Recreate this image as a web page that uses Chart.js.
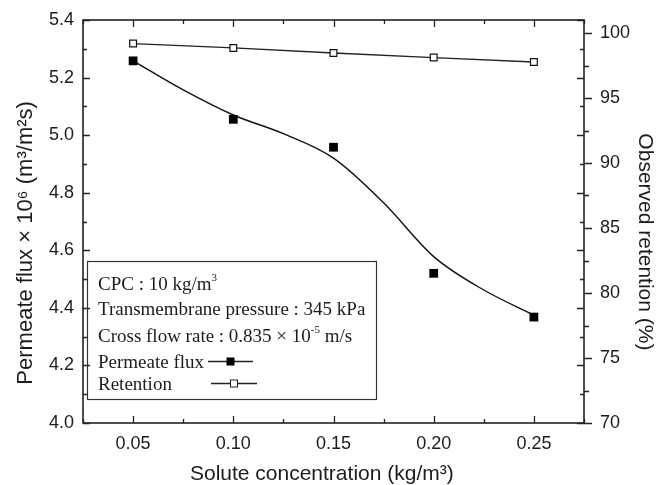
<!DOCTYPE html>
<html>
<head>
<meta charset="utf-8">
<script src="https://cdn.jsdelivr.net/npm/chart.js@4.4.1/dist/chart.umd.min.js"></script>
<style>
    html, body { margin: 0; padding: 0; background: #fff; }
    #wrap { width: 666px; height: 485px; }
</style>
</head>
<body>
<div id="wrap"><canvas id="chart"></canvas></div>
<script>
// values
const concentration = [0.05, 0.10, 0.15, 0.20, 0.25];
const permeateFlux = [5.258, 5.055, 4.958, 4.520, 4.368];
const retention = [99.19, 98.85, 98.46, 98.11, 97.77];

// fitted curve for the flux
const fitConc = [0.05, 0.075, 0.10, 0.125, 0.15, 0.175, 0.20, 0.225, 0.25];
const fitFlux = [5.258, 5.157, 5.070, 5.005, 4.920, 4.765, 4.578, 4.462, 4.375];

// axis settings
const xTicks = { min: 0.025, max: 0.275, step: 0.025, labelEvery: 0.05 };
const yTicks = { min: 4.0, max: 5.4, step: 0.1, labelEvery: 0.2 };
const y2Ticks = { min: 70, max: 101, step: 2.5, labelEvery: 5 };

// legend box text (with superscripts)
const legendText = [
    [['CPC : 10 kg/m', 0], ['3', 1]],
    [['Transmembrane pressure : 345 kPa', 0]],
    [['Cross flow rate : 0.835 \u00d7 10', 0], ['-5', 1], [' m/s', 0]],
    [['Permeate flux', 0]],
    [['Retention', 0]]
];

const ink = '#1c1c1c';

function isMultiple(v, step) {
    const k = Math.round(v / step);
    return Math.abs(k * step - v) < 1e-6;
}

// explicit tick list: every step between min and max
function tickList(t) {
    const out = [];
    const first = Math.ceil(t.min / t.step - 1e-9);
    const last = Math.floor(t.max / t.step + 1e-9);
    for (let k = first; k <= last; k++) {
        out.push({ value: Math.round(k * t.step * 1e6) / 1e6 });
    }
    return out;
}

// frame + inward ticks like the Origin plot
const frameTicks = {
    id: 'frameTicks',
    afterDatasetsDraw(chart) {
        const { ctx, chartArea: a, scales } = chart;
        ctx.save();
        ctx.strokeStyle = '#222';
        ctx.lineWidth = 1.6;
        ctx.strokeRect(a.left, a.top, a.right - a.left, a.bottom - a.top);
        ctx.lineWidth = 1.3;
        ctx.beginPath();
        scales.x.ticks.forEach(t => {
            const len = isMultiple(t.value, xTicks.labelEvery) ? 7 : 4;
            const px = Math.round(scales.x.getPixelForValue(t.value)) + 0.5;
            ctx.moveTo(px, a.bottom); ctx.lineTo(px, a.bottom - len);
            ctx.moveTo(px, a.top); ctx.lineTo(px, a.top + len);
        });
        scales.y.ticks.forEach(t => {
            const len = isMultiple(t.value, yTicks.labelEvery) ? 7 : 4;
            const py = Math.round(scales.y.getPixelForValue(t.value)) + 0.5;
            ctx.moveTo(a.left, py); ctx.lineTo(a.left + len, py);
            ctx.moveTo(a.right, py); ctx.lineTo(a.right - len, py);
        });
        scales.y2.ticks.forEach(t => {
            const len = isMultiple(t.value, y2Ticks.labelEvery) ? 8 : 5;
            const py = Math.round(scales.y2.getPixelForValue(t.value)) + 0.5;
            ctx.moveTo(a.right, py); ctx.lineTo(a.right + len, py);
        });
        ctx.stroke();
        ctx.restore();
    }
};

function drawRich(ctx, parts, x, y) {
    parts.forEach(([txt, sup]) => {
        if (sup) {
            ctx.font = '11px "Liberation Serif", "Times New Roman", serif';
            ctx.fillText(txt, x, y - 9);
        } else {
            ctx.font = '19px "Liberation Serif", "Times New Roman", serif';
            ctx.fillText(txt, x, y);
        }
        x += ctx.measureText(txt).width;
    });
}

// the boxed note / legend in the lower left
const noteBox = {
    id: 'noteBox',
    afterDraw(chart) {
        const ctx = chart.ctx;
        const a = chart.chartArea;
        const left = a.left + 4.5, top = 261.5, right = 376.5, bottom = 399.5;
        ctx.save();
        ctx.strokeStyle = '#333';
        ctx.lineWidth = 1.2;
        ctx.strokeRect(left, top, right - left, bottom - top);
        ctx.fillStyle = ink;
        ctx.textBaseline = 'alphabetic';
        const baselines = [290, 315, 342, 368, 390];
        legendText.forEach((parts, i) => drawRich(ctx, parts, 98, baselines[i]));

        // symbols
        ctx.strokeStyle = '#222';
        ctx.lineWidth = 1.3;
        ctx.beginPath();
        ctx.moveTo(208, 361.5); ctx.lineTo(253, 361.5);
        ctx.moveTo(211, 383.5); ctx.lineTo(257, 383.5);
        ctx.stroke();
        ctx.fillStyle = '#000';
        ctx.fillRect(226.5, 357.5, 8, 8);
        ctx.fillStyle = '#fff';
        ctx.fillRect(230.5, 380, 7, 7);
        ctx.lineWidth = 1;
        ctx.strokeRect(230.5, 380, 7, 7);
        ctx.restore();
    }
};

const tickFont = { family: '"Liberation Sans", Arial, sans-serif', size: 18 };
const titleFont = { family: '"Liberation Sans", Arial, sans-serif', size: 21, lineHeight: 1 };

new Chart(document.getElementById('chart'), {
    type: 'scatter',
    data: {
        datasets: [{
            label: 'Permeate flux',
            data: concentration.map((c, i) => ({ x: c, y: permeateFlux[i] })),
            yAxisID: 'y',
            pointStyle: 'rect',
            pointRadius: 6.2,
            backgroundColor: '#000',
            borderColor: '#000',
            borderWidth: 0,
            showLine: false
        }, {
            label: 'Flux fit',
            data: fitConc.map((c, i) => ({ x: c, y: fitFlux[i] })),
            yAxisID: 'y',
            showLine: true,
            cubicInterpolationMode: 'monotone',
            pointRadius: 0,
            borderColor: '#111',
            borderWidth: 1.4
        }, {
            label: 'Retention',
            data: concentration.map((c, i) => ({ x: c, y: retention[i] })),
            yAxisID: 'y2',
            showLine: true,
            pointStyle: 'rect',
            pointRadius: 4.8,
            pointBackgroundColor: '#fff',
            pointBorderColor: '#111',
            pointBorderWidth: 1.2,
            borderColor: '#222',
            borderWidth: 1.3
        }]
    },
    options: {
        responsive: true,
        maintainAspectRatio: false,
        animation: false,
        devicePixelRatio: 1,
        layout: { padding: { top: 20, left: 0, right: 0, bottom: 0 } },
        plugins: {
            legend: { display: false },
            tooltip: { enabled: false }
        },
        scales: {
            x: {
                type: 'linear',
                min: xTicks.min,
                max: xTicks.max,
                grid: { display: false },
                border: { display: false },
                afterBuildTicks: s => { s.ticks = tickList(xTicks); },
                ticks: {
                    autoSkip: false,
                    maxRotation: 0,
                    padding: 2,
                    color: ink,
                    font: tickFont,
                    callback: v => isMultiple(v, xTicks.labelEvery) ? v.toFixed(2) : ''
                },
                title: {
                    display: true,
                    text: 'Solute concentration (kg/m\u00b3)    ',
                    color: ink,
                    font: titleFont,
                    padding: { top: 0, bottom: 0 }
                },
                afterFit: s => { s.height = 62; }
            },
            y: {
                position: 'left',
                min: yTicks.min,
                max: yTicks.max,
                grid: { display: false },
                border: { display: false },
                afterBuildTicks: s => { s.ticks = tickList(yTicks); },
                ticks: {
                    autoSkip: false,
                    padding: 1,
                    color: ink,
                    font: tickFont,
                    callback: v => isMultiple(v, yTicks.labelEvery) ? v.toFixed(1) : ''
                },
                title: {
                    display: true,
                    text: 'Permeate flux \u00d7 10\u2076 (m\u00b3/m\u00b2s)       ',
                    color: ink,
                    font: { family: titleFont.family, size: 22, lineHeight: 1 },
                    padding: { top: 15, bottom: 0 }
                },
                afterFit: s => { s.width = 83; }
            },
            y2: {
                position: 'right',
                min: y2Ticks.min,
                max: y2Ticks.max,
                grid: { display: false },
                border: { display: false },
                afterBuildTicks: s => { s.ticks = tickList(y2Ticks); },
                ticks: {
                    autoSkip: false,
                    padding: 8,
                    color: ink,
                    font: tickFont,
                    callback: v => isMultiple(v, y2Ticks.labelEvery) ? String(v) : ''
                },
                title: {
                    display: true,
                    text: '       Observed retention (%)',
                    color: ink,
                    font: titleFont,
                    padding: { top: 11, bottom: 0 }
                },
                afterFit: s => { s.width = 82; }
            }
        }
    },
    plugins: [frameTicks, noteBox]
});
</script>
</body>
</html>
